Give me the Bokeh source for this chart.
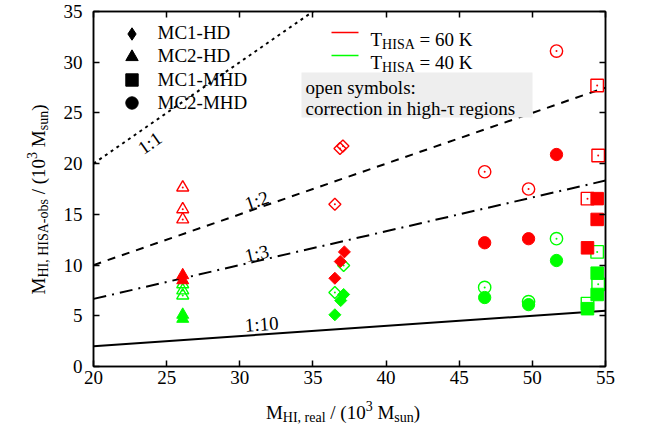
import math

from bokeh.plotting import figure
from bokeh.layouts import row, column
from bokeh.models import (
    Arrow,
    BoxAnnotation,
    ColumnDataSource,
    Label,
    Legend,
    LegendItem,
    LinearAxis,
    SingleIntervalTicker,
)
from bokeh.embed import file_html
from bokeh.resources import INLINE

# ---- data (10^3 M_sun) ----
models = ["MC1-HD", "MC2-HD", "MC1-MHD", "MC2-MHD"]

# MC1-HD (diamonds)
mc1_hd_60_x = [37.15, 36.87, 36.5]
mc1_hd_60_y = [11.3, 10.35, 8.7]
mc1_hd_60_open_x = [36.85, 37.05, 36.5]
mc1_hd_60_open_y = [21.5, 21.75, 16.0]
mc1_hd_40_x = [37.1, 36.9, 36.5]
mc1_hd_40_y = [7.1, 6.5, 5.1]
mc1_hd_40_open_x = [37.1, 36.5]
mc1_hd_40_open_y = [9.96, 7.3]

# MC2-HD (triangles)
mc2_hd_60_x = [26.1, 26.1]
mc2_hd_60_y = [9.0, 8.5]
mc2_hd_60_open_x = [26.1, 26.1, 26.1]
mc2_hd_60_open_y = [17.65, 15.5, 14.5]
mc2_hd_40_x = [26.1, 26.1]
mc2_hd_40_y = [5.1, 4.7]
mc2_hd_40_open_x = [26.1, 26.1, 26.1]
mc2_hd_40_open_y = [8.1, 7.5, 7.0]

# MC1-MHD (squares)
mc1_mhd_60_x = [54.43, 54.43, 53.77]
mc1_mhd_60_y = [16.55, 14.5, 11.7]
mc1_mhd_60_open_x = [54.43, 54.5, 53.77]
mc1_mhd_60_open_y = [27.7, 20.8, 16.55]
mc1_mhd_40_x = [54.43, 54.43, 53.77]
mc1_mhd_40_y = [9.2, 7.1, 5.7]
mc1_mhd_40_open_x = [54.43, 54.5, 53.77]
mc1_mhd_40_open_y = [11.3, 8.1, 6.2]

# MC2-MHD (circles)
mc2_mhd_60_x = [51.65, 46.74, 49.74]
mc2_mhd_60_y = [20.9, 12.2, 12.6]
mc2_mhd_60_open_x = [51.65, 46.74, 49.74]
mc2_mhd_60_open_y = [31.1, 19.2, 17.5]
mc2_mhd_40_x = [51.65, 46.74, 49.74]
mc2_mhd_40_y = [10.45, 6.8, 6.1]
mc2_mhd_40_open_x = [51.65, 46.74, 49.74]
mc2_mhd_40_open_y = [12.6, 7.8, 6.4]

# reference lines M_obs = M_real / k
ratios = [1, 2, 3, 10]
ratio_labels = ["1:1", "1:2", "1:3", "1:10"]
ratio_label_x = [23.84, 31.16, 31.16, 31.5]
ratio_label_y = [22.04, 16.37, 11.14, 4.19]

temps = ["60", "40"]

RED = "#ff0000"
GREEN = "#00ff00"
FONT = "Liberation Serif"
FS = 19
SUB = 14
FRAME_W, FRAME_H = 513, 355
X_RANGE = (20, 55)
Y_RANGE = (0, 35)
YLAB_W = 60
MAIN_W = 32 + FRAME_W + 36
MAIN_H = 11 + FRAME_H + 30
XLAB_H = 28
TOTAL_H = MAIN_H + XLAB_H

# Times advance widths (em) for placing sub/superscripts
TIMES_W = {
    "M": 0.889, "H": 0.722, "I": 0.333, "S": 0.556, "A": 0.722, "T": 0.611,
    ",": 0.25, " ": 0.25, "r": 0.333, "e": 0.444, "a": 0.444, "l": 0.278,
    "/": 0.278, "(": 0.333, ")": 0.333, "0": 0.5, "1": 0.5, "3": 0.5,
    "s": 0.389, "u": 0.5, "n": 0.5, "-": 0.333, "o": 0.5, "b": 0.5,
}


def text_width(s, size):
    return sum(TIMES_W.get(c, 0.5) for c in s) * size


def rich_text(fig, pieces, x, y, angle=0.0, center=False):
    """pieces: (text, size, shift); shift is the baseline offset in px (+ up)."""
    total = sum(text_width(t, s) for t, s, _ in pieces)
    pos = -total / 2 if center else 0.0
    for t, s, shift in pieces:
        lead = len(t) - len(t.lstrip(" "))
        pos += lead * TIMES_W[" "] * s
        body = t.strip(" ")
        if angle == 0.0:
            lx, ly = x + pos, y + shift
        else:
            lx, ly = x - shift, y + pos
        fig.add_layout(Label(x=lx, y=ly, x_units="screen", y_units="screen",
                             text=body, angle=angle, text_align="left",
                             text_baseline="alphabetic", text_font=FONT,
                             text_font_size=f"{s}px", text_color="black"))
        pos += text_width(body, s) + (len(t) - lead - len(body)) * TIMES_W[" "] * s


def blank_figure(width, height):
    f = figure(width=width, height=height, x_range=(0, 1), y_range=(0, 1),
               x_axis_type=None, y_axis_type=None, output_backend="svg",
               toolbar_location=None, min_border=0, outline_line_color=None,
               background_fill_color="white", border_fill_color="white")
    f.grid.visible = False
    return f


p = figure(
    width=MAIN_W,
    height=MAIN_H,
    x_range=X_RANGE,
    y_range=Y_RANGE,
    output_backend="svg",
    toolbar_location=None,
    min_border_left=32,
    min_border_right=36,
    min_border_top=11,
    min_border_bottom=30,
    background_fill_color="white",
    border_fill_color="white",
    outline_line_color="black",
    outline_line_width=1.5,
)
p.grid.visible = False


def style_axis(axis, labels=True):
    axis.ticker = SingleIntervalTicker(interval=5, num_minor_ticks=0)
    axis.axis_line_color = "black"
    axis.axis_line_width = 1.5
    axis.major_tick_in = 6
    axis.major_tick_out = 0
    axis.major_tick_line_width = 1.5
    axis.minor_tick_line_color = None
    axis.major_label_text_font = FONT
    if labels:
        axis.major_label_text_font_size = f"{FS}px"
        axis.major_label_text_color = "black"
    else:
        axis.major_label_text_font_size = "1px"
        axis.major_label_text_color = None


style_axis(p.xaxis[0])
style_axis(p.yaxis[0])
p.xaxis.major_label_standoff = 4
p.yaxis.major_label_standoff = 11
top_axis = LinearAxis()
right_axis = LinearAxis()
style_axis(top_axis, labels=False)
style_axis(right_axis, labels=False)
p.add_layout(top_axis, "above")
p.add_layout(right_axis, "right")

# reference lines
line_dashes = ["3 4", "8 7", "13 6 2 6", "solid"]
xs = list(X_RANGE)
for k, dash in zip(ratios, line_dashes):
    p.line(xs, [x / k for x in xs], line_color="black", line_width=2, line_dash=dash)

for k, text, lx, ly in zip(ratios, ratio_labels, ratio_label_x, ratio_label_y):
    ang = math.atan((1.0 / k) * FRAME_H / FRAME_W)
    p.add_layout(Label(x=lx, y=ly, text=text, angle=ang, text_align="center",
                       text_baseline="middle", text_font=FONT,
                       text_font_size=f"{FS}px", text_color="black"))


def plot_series(x, y, marker, size, color, is_open, angle=0.0):
    src = ColumnDataSource(dict(x=x, y=y))
    if is_open:
        p.scatter("x", "y", source=src, marker=marker, size=size, angle=angle,
                  fill_color=None, line_color=color, line_width=1.4)
        p.scatter("x", "y", source=src, marker="circle", size=2,
                  fill_color=color, line_color=None)
    else:
        p.scatter("x", "y", source=src, marker=marker, size=size, angle=angle,
                  fill_color=color, line_color=color, line_width=1)


series = [
    # (x40, y40, x40o, y40o, x60o, y60o, x60, y60, marker, size, angle)
    (mc1_hd_40_x, mc1_hd_40_y, mc1_hd_40_open_x, mc1_hd_40_open_y,
     mc1_hd_60_open_x, mc1_hd_60_open_y, mc1_hd_60_x, mc1_hd_60_y,
     "square", 8.5, math.pi / 4),
    (mc2_hd_40_x, mc2_hd_40_y, mc2_hd_40_open_x, mc2_hd_40_open_y,
     mc2_hd_60_open_x, mc2_hd_60_open_y, mc2_hd_60_x, mc2_hd_60_y,
     "triangle", 12, 0.0),
    (mc1_mhd_40_x, mc1_mhd_40_y, mc1_mhd_40_open_x, mc1_mhd_40_open_y,
     mc1_mhd_60_open_x, mc1_mhd_60_open_y, mc1_mhd_60_x, mc1_mhd_60_y,
     "square", 12.5, 0.0),
    (mc2_mhd_40_x, mc2_mhd_40_y, mc2_mhd_40_open_x, mc2_mhd_40_open_y,
     mc2_mhd_60_open_x, mc2_mhd_60_open_y, mc2_mhd_60_x, mc2_mhd_60_y,
     "circle", 12.3, 0.0),
]
for x40, y40, x40o, y40o, x60o, y60o, x60, y60, marker, size, angle in series:
    plot_series(x40, y40, marker, size, GREEN, False, angle)
    plot_series(x40o, y40o, marker, size, GREEN, True, angle)
    plot_series(x60o, y60o, marker, size, RED, True, angle)
    plot_series(x60, y60, marker, size, RED, False, angle)

# model legend (black symbols), one legend per row so symbols get full size
legend_markers = ["diamond", "triangle", "square", "circle"]
legend_glyph = [31, 31, 31, 31]
for i, (name, marker, g) in enumerate(zip(models, legend_markers, legend_glyph)):
    r = p.scatter(x=[float("nan")], y=[float("nan")], marker=marker,
                  fill_color="black", line_color="black")
    cy = 333 - i * 23.3
    h = max(g, 22)
    leg = Legend(
        items=[LegendItem(label=name, renderers=[r])],
        location=(38 - g / 2, cy - h / 2),
        glyph_width=g,
        glyph_height=g,
        label_height=22,
        label_standoff=int(27 - g / 2),
        padding=0,
        margin=0,
        spacing=0,
        background_fill_alpha=0,
        border_line_color=None,
        label_text_font=FONT,
        label_text_font_size=f"{FS}px",
        label_text_color="black",
    )
    p.add_layout(leg)

# temperature legend
for i, (t, color) in enumerate(zip(temps, [RED, GREEN])):
    cy = 334 - i * 23
    p.add_layout(Arrow(x_start=238, y_start=cy, x_end=265, y_end=cy,
                       start_units="screen", end_units="screen", end=None,
                       line_color=color, line_width=1.5))
    rich_text(p, [("T", FS, 0), ("HISA", SUB, -5), (f" = {t} K", FS, 0)], 277, cy - 7.3)

# note box
p.add_layout(BoxAnnotation(left=208, right=439, bottom=249, top=294,
                           left_units="screen", right_units="screen",
                           bottom_units="screen", top_units="screen",
                           fill_color="#eeeeee", fill_alpha=1, line_color=None))
for text, fy in [("open symbols:", 278.7), ("correction in high-τ regions", 257.7)]:
    p.add_layout(Label(x=212, y=fy, x_units="screen", y_units="screen", text=text,
                       text_font=FONT, text_font_size=f"{FS}px",
                       text_baseline="alphabetic", text_color="black"))

# axis titles with sub/superscripts, drawn in their own strips
ylab = blank_figure(YLAB_W, TOTAL_H)
rich_text(ylab, [("M", FS, 0), ("HI, HISA-obs", SUB, -5), (" / (10", FS, 0), ("3", SUB, 7),
                 (" M", FS, 0), ("sun", SUB, -5), (")", FS, 0)],
          38, TOTAL_H - 199, angle=math.pi / 2, center=True)

# the column aligns this strip's frame with the main frame
xlab = blank_figure(MAIN_W, XLAB_H)
rich_text(xlab, [("M", FS, 0), ("HI, real", SUB, -5), (" / (10", FS, 0), ("3", SUB, 7),
                 (" M", FS, 0), ("sun", SUB, -5), (")", FS, 0)],
          FRAME_W / 2 - 7, TOTAL_H - 412, center=True)

layout = row(ylab, column(p, xlab))

open("out.html", "w").write(file_html(layout, INLINE))
